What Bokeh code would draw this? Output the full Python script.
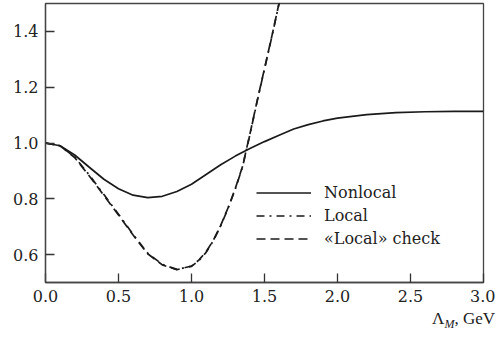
from bokeh.plotting import figure
from bokeh.models import FixedTicker, NumeralTickFormatter, Range1d, Legend, Div
from bokeh.layouts import column
from bokeh.embed import file_html
from bokeh.resources import INLINE

# --- data ---
x_nonlocal = [0.0, 0.1, 0.2, 0.3, 0.4, 0.5, 0.6, 0.7, 0.8, 0.9, 1.0, 1.1, 1.2, 1.3, 1.4,
              1.5, 1.6, 1.7, 1.8, 1.9, 2.0, 2.2, 2.4, 2.6, 2.8, 3.0]
y_nonlocal = [1.000, 0.990, 0.957, 0.913, 0.870, 0.836, 0.813, 0.804, 0.809, 0.826, 0.852,
              0.887, 0.922, 0.953, 0.980, 1.005, 1.028, 1.050, 1.066, 1.079, 1.089, 1.102,
              1.109, 1.112, 1.113, 1.113]

x_local = [0.0, 0.1, 0.2, 0.3, 0.4, 0.5, 0.6, 0.7, 0.8, 0.9, 1.0, 1.05, 1.1, 1.15, 1.2, 1.25, 1.3,
           1.35, 1.4, 1.45, 1.5, 1.55, 1.6, 1.65]
y_local = [1.000, 0.990, 0.950, 0.885, 0.815, 0.745, 0.672, 0.605, 0.565, 0.547, 0.558,
           0.578, 0.608, 0.650, 0.703, 0.765, 0.835, 0.915, 1.030, 1.150, 1.265, 1.380, 1.500, 1.620]

x_check = [0.0, 0.1, 0.2, 0.3, 0.4, 0.5, 0.6, 0.7, 0.8, 0.9, 1.0, 1.05, 1.1, 1.15, 1.2, 1.25, 1.3,
           1.35, 1.4, 1.45, 1.5, 1.55, 1.6, 1.65]
y_check = [1.000, 0.990, 0.948, 0.882, 0.812, 0.742, 0.670, 0.603, 0.563, 0.546, 0.559,
           0.580, 0.610, 0.652, 0.705, 0.767, 0.837, 0.917, 1.032, 1.152, 1.267, 1.382, 1.502, 1.622]

x_ticks = [0.0, 0.5, 1.0, 1.5, 2.0, 2.5, 3.0]
y_ticks = [0.6, 0.8, 1.0, 1.2, 1.4]

FONT = "DejaVu Serif"

p = figure(width=495, height=306, output_backend="svg", toolbar_location=None,
           x_range=Range1d(0, 3.0), y_range=Range1d(0.5, 1.5),
           min_border_left=45, min_border_right=12, min_border_top=3, min_border_bottom=24)
p.background_fill_color = "white"
p.border_fill_color = "white"
p.grid.visible = False
p.outline_line_color = "#444444"
p.outline_line_width = 1.3

for ax, ticks in ((p.xaxis[0], x_ticks), (p.yaxis[0], y_ticks)):
    ax.ticker = FixedTicker(ticks=ticks)
    ax.formatter = NumeralTickFormatter(format="0.0")
    ax.major_tick_in = 9
    ax.major_tick_out = 0
    ax.minor_tick_line_color = None
    ax.major_tick_line_color = "#333333"
    ax.major_tick_line_width = 1.3
    ax.axis_line_color = "#444444"
    ax.axis_line_width = 1.3
    ax.major_label_text_font = FONT
    ax.major_label_text_font_size = "16px"
    ax.major_label_text_color = "#222222"
    ax.major_label_standoff = 7

r1 = p.line(x_nonlocal, y_nonlocal, line_color="#1a1a1a", line_width=1.7)
r2 = p.line(x_local, y_local, line_color="#1a1a1a", line_width=1.7, line_dash="8 5 2 5")
r3 = p.line(x_check, y_check, line_color="#1a1a1a", line_width=1.7, line_dash="9 5")

legend = Legend(items=[("Nonlocal", [r1]), ("Local", [r2]), ("«Local» check", [r3])],
                location=(211, 34))
legend.label_text_font = FONT
legend.label_text_font_size = "16px"
legend.label_text_color = "#222222"
legend.glyph_width = 55
legend.glyph_height = 19
legend.label_height = 19
legend.label_standoff = 13
legend.spacing = 4
legend.padding = 0
legend.margin = 0
legend.border_line_color = None
legend.background_fill_alpha = 0
p.add_layout(legend, "center")

# axis title: Λ_M, GeV
title = Div(text="Λ<sub style='font-style:italic;font-size:12px;vertical-align:-4px'>M</sub>, GeV",
            width=495, height=18,
            styles={"font-family": "'Liberation Serif', 'Times New Roman', serif",
                    "font-size": "17px", "color": "#222222", "text-align": "right",
                    "width": "490px", "line-height": "16px"})

layout = column(p, title, spacing=0)
open("out.html", "w").write(file_html(layout, INLINE))
